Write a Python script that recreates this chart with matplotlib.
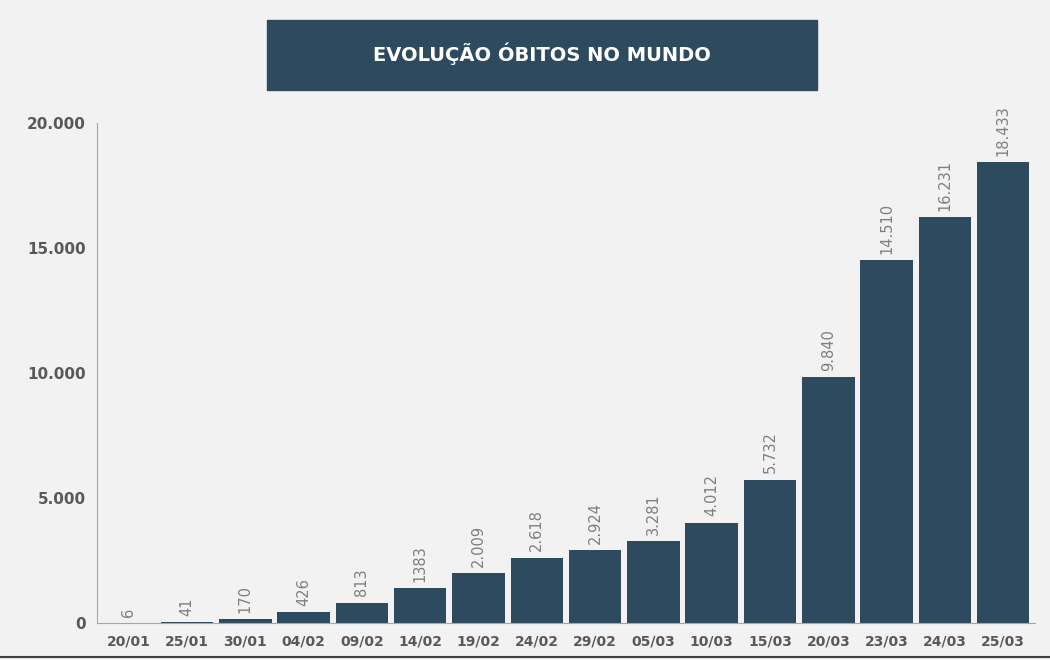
import matplotlib.pyplot as plt
from matplotlib.patches import Rectangle
from matplotlib.lines import Line2D

# data
dates = ['20/01', '25/01', '30/01', '04/02', '09/02', '14/02', '19/02', '24/02',
         '29/02', '05/03', '10/03', '15/03', '20/03', '23/03', '24/03', '25/03']
deaths = [6, 41, 170, 426, 813, 1383, 2009, 2618, 2924, 3281, 4012, 5732,
          9840, 14510, 16231, 18433]
labels = ['6', '41', '170', '426', '813', '1383', '2.009', '2.618', '2.924', '3.281',
          '4.012', '5.732', '9.840', '14.510', '16.231', '18.433']
yticks = [0, 5000, 10000, 15000, 20000]
ytick_labels = ['0', '5.000', '10.000', '15.000', '20.000']

bar_color = '#2e4a5f'
bg = '#f2f2f2'

fig = plt.figure(figsize=(10.5, 6.6), dpi=100, facecolor=bg)
ax = fig.add_axes([0.092, 0.056, 0.894, 0.758])
ax.set_facecolor(bg)

x = range(len(dates))
ax.bar(x, deaths, width=0.9, color=bar_color)
for i, (v, lab) in enumerate(zip(deaths, labels)):
    ax.text(i, v + 250, lab, rotation=90, ha='center', va='bottom',
            fontsize=10.5, color='#7f7f7f')

ax.set_xlim(-0.55, len(dates) - 0.45)
ax.set_ylim(0, 20000)
ax.set_xticks(list(x))
ax.set_xticklabels(dates, fontsize=10, fontweight='bold', color='#595959')
ax.set_yticks(yticks)
ax.set_yticklabels(ytick_labels, fontsize=11, fontweight='bold', color='#595959')
ax.tick_params(axis='both', length=0, pad=8)
for s in ['top', 'right']:
    ax.spines[s].set_visible(False)
ax.spines['left'].set_color('#a6a6a6')
ax.spines['bottom'].set_color('#a6a6a6')

# title box
fig.patches.append(Rectangle((0.254, 0.864), 0.524, 0.106, transform=fig.transFigure,
                             color=bar_color, zorder=0))
fig.text(0.516, 0.918, 'EVOLUÇÃO ÓBITOS NO MUNDO', ha='center', va='center',
         color='white', fontsize=14, fontweight='bold')

fig.lines.append(Line2D([0, 1], [0.004, 0.004], transform=fig.transFigure,
                        color='#404040', lw=1.5))

fig.savefig('out.png', dpi=100, facecolor=bg)
